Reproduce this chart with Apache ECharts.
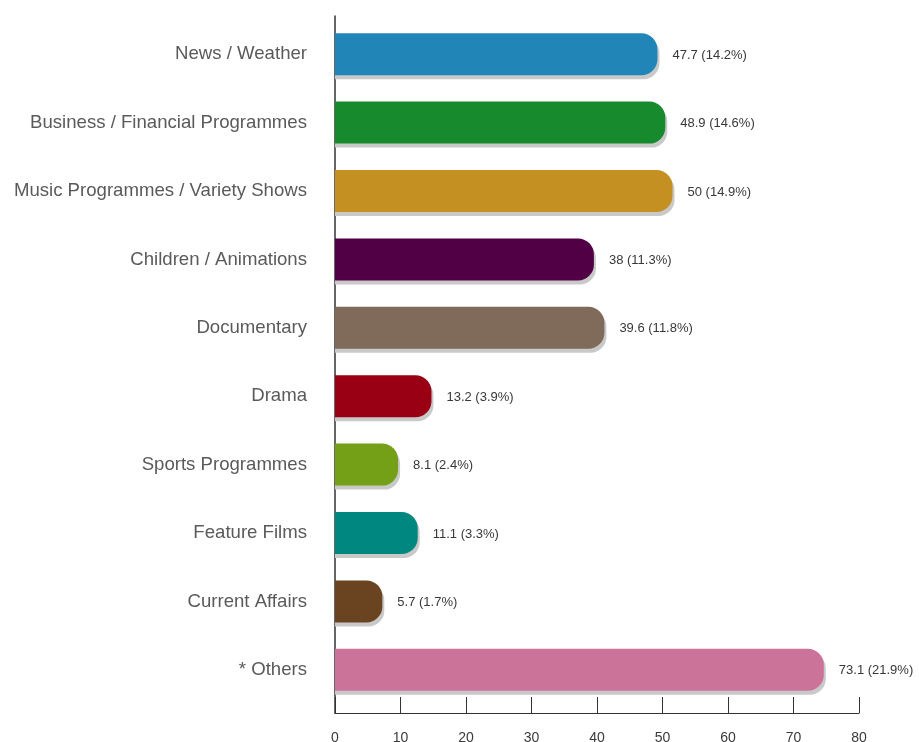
<!DOCTYPE html>
<html>
<head>
<meta charset="utf-8">
<script src="https://cdn.jsdelivr.net/npm/echarts@6/dist/echarts.min.js"></script>
<style>
  html, body { margin: 0; padding: 0; background: #ffffff; }
  #chart { width: 919px; height: 742px; }
</style>
</head>
<body>
<div id="chart"></div>
<script>
// Programme genres (top to bottom)
const categories = [
  'News / Weather',
  'Business / Financial Programmes',
  'Music Programmes / Variety Shows',
  'Children / Animations',
  'Documentary',
  'Drama',
  'Sports Programmes',
  'Feature Films',
  'Current Affairs',
  '* Others'
];
// Hours per genre and its share of the total
const hours = [47.7, 48.9, 50, 38, 39.6, 13.2, 8.1, 11.1, 5.7, 73.1];
const shares = ['14.2', '14.6', '14.9', '11.3', '11.8', '3.9', '2.4', '3.3', '1.7', '21.9'];
const colors = ['#2285b8', '#168a2c', '#c49022', '#520046', '#806a5a',
                '#990014', '#73a016', '#008880', '#6a4320', '#cc7399'];
const xTicks = [0, 10, 20, 30, 40, 50, 60, 70, 80];

const FONT = '"Liberation Sans", Arial, Helvetica, sans-serif';
const BAR_H = 42;     // bar thickness
const CAP = 10;       // rounded cap length past the value
const RADIUS = 16;

const chart = echarts.init(document.getElementById('chart'), null, { renderer: 'canvas' });

function renderBar(params, api) {
  const idx = api.value(1);
  const v = api.value(0);
  const p0 = api.coord([0, idx]);
  const p1 = api.coord([v, idx]);
  const w = p1[0] - p0[0] + CAP;
  const y = p0[1] - BAR_H / 2;
  return {
    type: 'group',
    children: [
      {
        type: 'rect',
        shape: { x: p0[0], y: y + 4, width: w + 2, height: BAR_H, r: [0, RADIUS, RADIUS, 0] },
        style: { fill: '#c9c9c9' },
        z2: 1
      },
      {
        type: 'rect',
        shape: { x: p0[0], y: y, width: w, height: BAR_H, r: [0, RADIUS, RADIUS, 0] },
        style: { fill: colors[idx] },
        z2: 2
      },
      {
        type: 'text',
        x: p0[0] + w + 15,
        y: p0[1] + 1,
        style: {
          text: hours[idx] + ' (' + shares[idx] + '%)',
          fill: '#383838',
          font: '13px ' + FONT,
          verticalAlign: 'middle',
          align: 'left'
        },
        z2: 3
      }
    ]
  };
}

const option = {
  backgroundColor: '#ffffff',
  animation: false,
  grid: [
    { left: 335, right: 60, top: 20, bottom: 38, outerBoundsMode: 'none', containLabel: false },
    { left: 335, right: 60, top: 16, bottom: 29, outerBoundsMode: 'none', containLabel: false }
  ],
  xAxis: [
    {
      gridIndex: 0, type: 'value', min: 0, max: 80, interval: 10,
      show: false
    },
    {
      gridIndex: 1, type: 'value', min: 0, max: 80, interval: 10,
      axisLine: { show: true, lineStyle: { color: '#333333', width: 1 } },
      axisTick: { show: true, inside: true, length: 16, lineStyle: { color: '#333333', width: 1 } },
      axisLabel: {
        color: '#3a3a3a', fontSize: 14, fontFamily: FONT, margin: 18,
        formatter: function (v) { return xTicks.indexOf(v) >= 0 ? String(v) : ''; }
      },
      splitLine: { show: false }
    }
  ],
  yAxis: [
    {
      gridIndex: 0, type: 'category', data: categories, inverse: true,
      axisLine: { show: false },
      axisTick: { show: false },
      axisLabel: { color: '#5a5a5a', fontSize: 18.6, fontFamily: FONT, margin: 28 }
    },
    {
      gridIndex: 1, type: 'value', min: 0, max: 1,
      axisLine: { show: true, lineStyle: { color: '#333333', width: 1.5 } },
      axisTick: { show: false },
      axisLabel: { show: false },
      splitLine: { show: false }
    }
  ],
  series: [
    {
      type: 'custom',
      xAxisIndex: 0,
      yAxisIndex: 0,
      renderItem: renderBar,
      encode: { x: 0, y: 1 },
      data: hours.map(function (h, i) { return [h, i]; })
    }
  ]
};

chart.setOption(option);
</script>
</body>
</html>
